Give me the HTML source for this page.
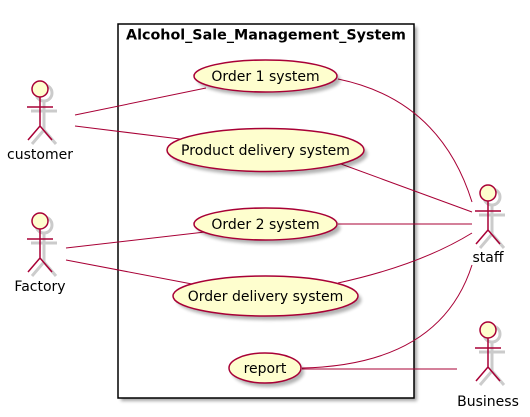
<!DOCTYPE html>
<html><head><style>body{margin:0;background:#fff}svg{display:block}</style></head><body>
<svg width="530" height="417" xmlns="http://www.w3.org/2000/svg" font-family="DejaVu Sans, sans-serif">
<defs><filter id="s" x="-20%" y="-20%" width="150%" height="150%"><feGaussianBlur stdDeviation="1.5"/></filter></defs>
<rect x="121" y="27" width="296" height="374" fill="#000" opacity="0.35" filter="url(#s)"/>
<rect x="118" y="24" width="296" height="374" fill="#fff" stroke="#000" stroke-width="1.5"/>
<text x="126" y="39.5" font-size="14.3" font-weight="bold">Alcohol_Sale_Management_System</text>
<g fill="none" stroke="#A80036" stroke-width="1">
<line x1="75" y1="115" x2="206" y2="88"/>
<line x1="75" y1="126" x2="180" y2="139"/>
<line x1="66" y1="248" x2="205" y2="232"/>
<line x1="66" y1="260" x2="192" y2="284"/>
<path d="M338 79 Q440 100 472 202"/>
<line x1="341" y1="164" x2="472" y2="212"/>
<line x1="338" y1="224" x2="472" y2="224"/>
<path d="M338 283 Q420 265 472 233"/>
<path d="M302 368 Q440 365 472 265"/>
<line x1="302" y1="369" x2="457" y2="369"/>
</g>
<g fill="#000" opacity="0.3" filter="url(#s)">
<ellipse cx="269" cy="80" rx="71.5" ry="16"/>
<ellipse cx="269" cy="154" rx="98.5" ry="21.5"/>
<ellipse cx="269" cy="228" rx="71.5" ry="16"/>
<ellipse cx="269" cy="300" rx="92.5" ry="20"/>
<ellipse cx="268" cy="372" rx="36" ry="15"/>
</g>
<g fill="#FEFECE" stroke="#A80036" stroke-width="1.5">
<ellipse cx="265.5" cy="76" rx="71.5" ry="16"/>
<ellipse cx="265.5" cy="150" rx="98.5" ry="21.5"/>
<ellipse cx="265.5" cy="224" rx="71.5" ry="16"/>
<ellipse cx="265.5" cy="296" rx="92.5" ry="20"/>
<ellipse cx="265" cy="368" rx="36" ry="15"/>
</g>
<g font-size="14" text-anchor="middle" fill="#000">
<text x="265.5" y="81">Order 1 system</text>
<text x="265.5" y="155">Product delivery system</text>
<text x="265.5" y="229">Order 2 system</text>
<text x="265.5" y="301">Order delivery system</text>
<text x="265" y="373">report</text>
</g>
<g>
<g transform="translate(40,89)">
<g stroke="#000" opacity="0.2" fill="none" stroke-width="3" transform="translate(4,4)"><circle r="8"/><path d="M0 8V37M-13 18H13M0 37L-12 51M0 37L12 51"/></g>
<circle r="8" fill="#FEFECE" stroke="#A80036" stroke-width="1.5"/><path d="M0 8V37M-13 18H13M0 37L-12 51M0 37L12 51" stroke="#A80036" stroke-width="1.5" fill="none"/>
</g>
<g transform="translate(40,221)">
<g stroke="#000" opacity="0.2" fill="none" stroke-width="3" transform="translate(4,4)"><circle r="8"/><path d="M0 8V37M-13 18H13M0 37L-12 51M0 37L12 51"/></g>
<circle r="8" fill="#FEFECE" stroke="#A80036" stroke-width="1.5"/><path d="M0 8V37M-13 18H13M0 37L-12 51M0 37L12 51" stroke="#A80036" stroke-width="1.5" fill="none"/>
</g>
<g transform="translate(488,193)">
<g stroke="#000" opacity="0.2" fill="none" stroke-width="3" transform="translate(4,4)"><circle r="8"/><path d="M0 8V37M-13 18H13M0 37L-12 51M0 37L12 51"/></g>
<circle r="8" fill="#FEFECE" stroke="#A80036" stroke-width="1.5"/><path d="M0 8V37M-13 18H13M0 37L-12 51M0 37L12 51" stroke="#A80036" stroke-width="1.5" fill="none"/>
</g>
<g transform="translate(488,330)">
<g stroke="#000" opacity="0.2" fill="none" stroke-width="3" transform="translate(4,4)"><circle r="8"/><path d="M0 8V37M-13 18H13M0 37L-12 51M0 37L12 51"/></g>
<circle r="8" fill="#FEFECE" stroke="#A80036" stroke-width="1.5"/><path d="M0 8V37M-13 18H13M0 37L-12 51M0 37L12 51" stroke="#A80036" stroke-width="1.5" fill="none"/>
</g>
</g>
<g font-size="14" text-anchor="middle" fill="#000">
<text x="40" y="159">customer</text>
<text x="40" y="291">Factory</text>
<text x="488" y="262">staff</text>
<text x="488" y="406">Business</text>
</g>
</svg>
</body></html>
